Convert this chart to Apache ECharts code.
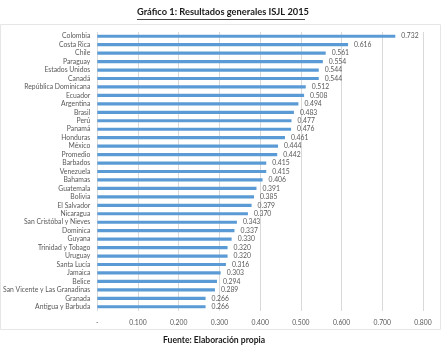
<!DOCTYPE html>
<html>
<head>
<meta charset="utf-8">
<script src="https://cdn.jsdelivr.net/npm/echarts@6/dist/echarts.min.js"></script>
<style>
  html, body { margin: 0; padding: 0; background: #fff; }
  #chart { width: 442px; height: 348px; }
</style>
</head>
<body>
<div id="chart"></div>
<script>
// ISJL 2015 overall scores by country, highest first
const countries = [
  'Colombia', 'Costa Rica', 'Chile', 'Paraguay', 'Estados Unidos', 'Canadá',
  'República Dominicana', 'Ecuador', 'Argentina', 'Brasil', 'Perú', 'Panamá',
  'Honduras', 'México', 'Promedio', 'Barbados', 'Venezuela', 'Bahamas',
  'Guatemala', 'Bolivia', 'El Salvador', 'Nicaragua', 'San Cristóbal y Nieves',
  'Dominica', 'Guyana', 'Trinidad y Tobago', 'Uruguay', 'Santa Lucía',
  'Jamaica', 'Belice', 'San Vicente y Las Granadinas', 'Granada', 'Antigua y Barbuda'
];
const scores = [
  0.732, 0.616, 0.561, 0.554, 0.544, 0.544,
  0.512, 0.508, 0.494, 0.483, 0.477, 0.476,
  0.461, 0.444, 0.442, 0.415, 0.415, 0.406,
  0.391, 0.385, 0.379, 0.370, 0.343,
  0.337, 0.330, 0.320, 0.320, 0.316,
  0.303, 0.294, 0.289, 0.266, 0.266
];
const axisMin = 0, axisMax = 0.8, axisStep = 0.1;

const FONT = 'Lato, "Open Sans", sans-serif';
const chart = echarts.init(document.getElementById('chart'), null, { renderer: 'canvas' });

chart.setOption({
  animation: false,
  backgroundColor: '#ffffff',
  textStyle: { fontFamily: FONT },
  grid: { left: 97, right: 19, top: 32, bottom: 37, containLabel: false },
  xAxis: {
    type: 'value',
    min: axisMin, max: axisMax, interval: axisStep,
    axisLine: { show: false },
    axisTick: { show: false },
    splitLine: { show: true, lineStyle: { color: '#d9d9d9', width: 1 } },
    axisLabel: {
      color: '#595959', fontSize: 6.8, margin: 8, fontFamily: FONT,
      formatter: v => (v === 0 ? '-' : v.toFixed(3))
    }
  },
  yAxis: {
    type: 'category',
    data: countries,
    inverse: true,
    axisLine: { show: false },
    axisTick: { show: false },
    axisLabel: { interval: 0, color: '#595959', fontSize: 6.8, margin: 7, fontFamily: FONT }
  },
  series: [{
    type: 'bar',
    data: scores,
    barWidth: 3.2,
    itemStyle: { color: '#5b9bd5' },
    label: {
      show: true, position: 'right', distance: 6,
      color: '#595959', fontSize: 6.8, fontFamily: FONT,
      formatter: p => p.value.toFixed(3)
    }
  }],
  graphic: [
    {
      type: 'text', left: 137, top: 7,
      style: {
        text: 'Gráfico 1: Resultados generales ISJL 2015',
        font: 'bold 9.3px ' + FONT, fill: '#1a1a1a'
      }
    },
    {
      type: 'line', shape: { x1: 137, y1: 19.5, x2: 305, y2: 19.5 },
      style: { stroke: '#1a1a1a', lineWidth: 0.8 }
    },
    {
      type: 'rect', shape: { x: 0.5, y: 24.5, width: 440, height: 305 },
      style: { fill: 'none', stroke: '#e6e6e6', lineWidth: 1 }, z: -1
    },
    {
      type: 'text', left: 163, top: 336,
      style: {
        text: 'Fuente: Elaboración propia',
        font: 'bold 8.6px ' + FONT, fill: '#1a1a1a'
      }
    }
  ]
});
</script>
</body>
</html>
